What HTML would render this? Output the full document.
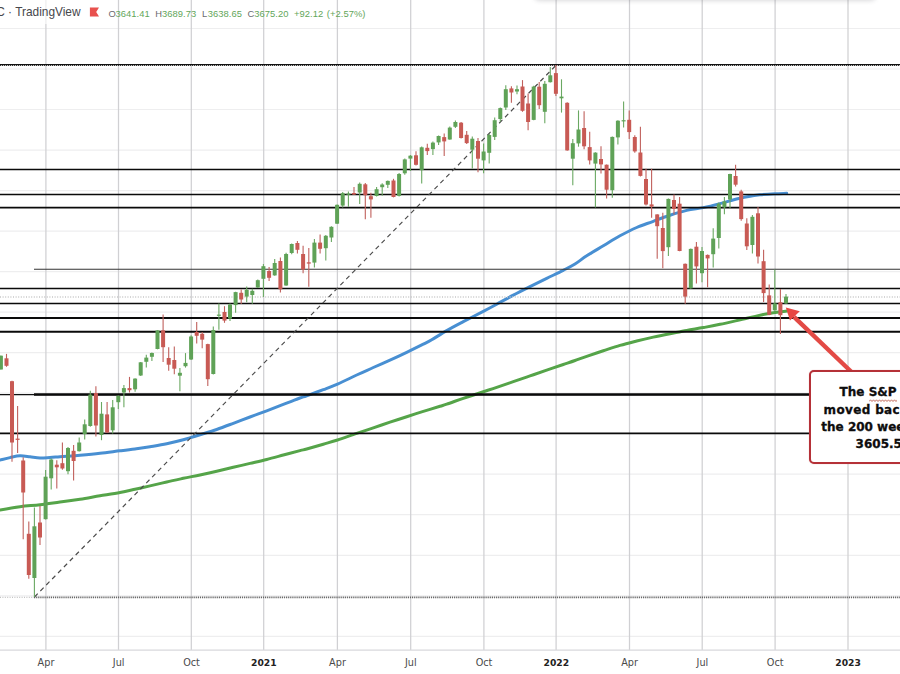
<!DOCTYPE html>
<html><head><meta charset="utf-8"><title>SPX chart</title>
<style>
html,body{margin:0;padding:0;background:#fff;}
body{width:900px;height:674px;position:relative;overflow:hidden;font-family:"Liberation Sans","DejaVu Sans",sans-serif;}
#shadow{position:absolute;left:536px;top:-15px;width:338px;height:13px;background:#999;box-shadow:0 0 4px 3px rgba(90,90,100,.22);border-radius:4px;}
#title{position:absolute;left:-3.8px;top:5.9px;font-family:"Liberation Sans","DejaVu Sans",sans-serif;font-size:11.9px;line-height:13px;color:#47474c;white-space:nowrap;}
#ohlc span{position:absolute;top:8.2px;font-family:"Liberation Sans","DejaVu Sans",sans-serif;font-size:9.4px;line-height:11px;color:#62a65a;white-space:nowrap;letter-spacing:0.05px;}
#ohlc span.k{color:#6a6a6e;}
#box{position:absolute;left:808.7px;top:370.4px;width:120px;height:89.2px;border:2px solid #b53138;border-radius:5px;background:#fff;box-shadow:0 0 1px rgba(200,60,60,.5);}
.bl{position:absolute;white-space:nowrap;font-family:"DejaVu Sans","Liberation Sans",sans-serif;font-weight:bold;font-size:12px;color:#0d0d0d;line-height:14px;-webkit-text-stroke:0.3px #0d0d0d;}
#sq{position:absolute;left:869px;top:398.6px;}
</style></head><body>
<svg width="900" height="674" viewBox="0 0 900 674" style="position:absolute;left:0;top:0">
<g stroke="#eeeeef" stroke-width="1.2">
<line x1="0" x2="900" y1="28.5" y2="28.5"/>
<line x1="0" x2="900" y1="69.0" y2="69.0"/>
<line x1="0" x2="900" y1="109.5" y2="109.5"/>
<line x1="0" x2="900" y1="150.1" y2="150.1"/>
<line x1="0" x2="900" y1="190.6" y2="190.6"/>
<line x1="0" x2="900" y1="231.1" y2="231.1"/>
<line x1="0" x2="900" y1="271.6" y2="271.6"/>
<line x1="0" x2="900" y1="312.1" y2="312.1"/>
<line x1="0" x2="900" y1="352.7" y2="352.7"/>
<line x1="0" x2="900" y1="393.2" y2="393.2"/>
<line x1="0" x2="900" y1="433.7" y2="433.7"/>
<line x1="0" x2="900" y1="474.2" y2="474.2"/>
<line x1="0" x2="900" y1="514.7" y2="514.7"/>
<line x1="0" x2="900" y1="555.3" y2="555.3"/>
<line x1="0" x2="900" y1="595.8" y2="595.8"/>
<line x1="0" x2="900" y1="636.3" y2="636.3"/>
</g>
<g stroke="#d0d0d3" stroke-width="1.25">
<line x1="45.9" x2="45.9" y1="0" y2="650"/>
<line x1="118.5" x2="118.5" y1="0" y2="650"/>
<line x1="191.3" x2="191.3" y1="0" y2="650"/>
<line x1="263.7" x2="263.7" y1="0" y2="650"/>
<line x1="337.4" x2="337.4" y1="0" y2="650"/>
<line x1="410.7" x2="410.7" y1="0" y2="650"/>
<line x1="483.9" x2="483.9" y1="0" y2="650"/>
<line x1="556.1" x2="556.1" y1="0" y2="650"/>
<line x1="629.5" x2="629.5" y1="0" y2="650"/>
<line x1="702.2" x2="702.2" y1="0" y2="650"/>
<line x1="775.1" x2="775.1" y1="0" y2="650"/>
<line x1="848.0" x2="848.0" y1="0" y2="650"/>
</g>
<line x1="0" x2="900" y1="650.2" y2="650.2" stroke="#d8d8dc" stroke-width="1.2"/>
<path d="M0.0 460.0 C1.7 459.6 6.7 458.3 10.0 457.6 C13.3 456.9 16.7 455.9 20.0 455.8 C23.3 455.7 26.7 456.4 30.0 456.8 C33.3 457.2 36.7 457.9 40.0 458.0 C43.3 458.1 46.7 457.7 50.0 457.5 C53.3 457.3 55.0 457.1 60.0 456.7 C65.0 456.3 73.3 455.9 80.0 455.3 C86.7 454.7 93.3 454.1 100.0 453.3 C106.7 452.6 114.2 451.5 120.0 450.8 C125.8 450.1 130.0 449.6 135.0 448.9 C140.0 448.2 144.7 447.6 150.0 446.7 C155.3 445.8 161.1 444.9 166.7 443.7 C172.2 442.5 179.1 440.8 183.3 439.7 C187.5 438.6 188.9 438.0 191.7 437.2 C194.5 436.4 195.8 436.0 200.0 434.7 C204.2 433.4 211.1 431.4 216.7 429.5 C222.2 427.6 227.8 425.4 233.3 423.3 C238.9 421.2 244.4 419.1 250.0 417.0 C255.6 414.9 261.1 412.9 266.7 410.8 C272.2 408.7 277.8 406.5 283.3 404.4 C288.9 402.3 296.1 399.4 300.0 398.0 C303.9 396.6 302.8 397.2 306.7 395.8 C310.6 394.4 318.2 391.6 323.3 389.7 C328.4 387.8 331.9 386.6 337.5 384.2 C343.1 381.8 350.7 377.8 356.7 375.0 C362.7 372.2 367.8 370.0 373.3 367.5 C378.9 365.0 384.4 362.7 390.0 360.2 C395.6 357.7 401.1 355.1 406.7 352.4 C412.2 349.7 419.1 346.3 423.3 344.2 C427.5 342.1 427.8 342.1 431.7 339.8 C435.6 337.5 441.4 333.6 446.7 330.6 C452.0 327.6 457.2 324.9 463.3 321.7 C469.4 318.5 477.7 314.2 483.3 311.3 C488.9 308.4 491.7 306.9 496.7 304.2 C501.7 301.5 507.7 298.1 513.3 295.2 C518.8 292.3 524.4 289.5 530.0 286.7 C535.6 283.9 541.2 281.1 546.7 278.4 C552.2 275.7 558.6 272.7 563.3 270.3 C568.0 267.9 571.1 266.4 575.0 264.0 C578.9 261.6 582.0 258.8 586.7 255.8 C591.4 252.8 597.8 249.1 603.3 245.8 C608.8 242.5 614.4 238.9 620.0 235.8 C625.6 232.8 631.2 229.9 636.7 227.5 C642.2 225.1 647.8 223.4 653.3 221.3 C658.8 219.2 664.4 217.0 670.0 215.2 C675.6 213.4 681.2 211.7 686.7 210.4 C692.2 209.1 697.8 208.7 703.3 207.6 C708.8 206.5 713.9 205.2 720.0 203.6 C726.1 202.0 733.3 199.7 740.0 198.2 C746.7 196.7 754.2 195.6 760.0 194.8 C765.8 194.1 770.5 193.9 775.0 193.7 C779.5 193.4 784.8 193.4 786.7 193.3" fill="none" stroke="#488fd2" stroke-width="3" stroke-linejoin="round" stroke-linecap="round"/>
<path d="M0.0 510.0 C3.3 509.4 13.3 507.6 20.0 506.7 C26.7 505.8 33.3 505.5 40.0 504.7 C46.7 503.9 53.3 502.9 60.0 502.0 C66.7 501.1 73.3 500.2 80.0 499.2 C86.7 498.2 93.3 496.9 100.0 495.8 C106.7 494.7 114.2 493.6 120.0 492.5 C125.8 491.4 130.0 490.4 135.0 489.3 C140.0 488.2 144.7 487.1 150.0 485.9 C155.3 484.7 161.1 483.3 166.7 482.0 C172.2 480.7 177.8 479.5 183.3 478.3 C188.9 477.1 194.4 476.2 200.0 475.0 C205.6 473.8 211.1 472.6 216.7 471.3 C222.2 470.0 227.8 468.6 233.3 467.3 C238.9 466.0 244.4 464.7 250.0 463.4 C255.6 462.1 261.1 460.9 266.7 459.5 C272.2 458.1 277.8 456.5 283.3 455.0 C288.9 453.5 296.1 451.6 300.0 450.6 C303.9 449.6 302.8 450.1 306.7 449.0 C310.6 447.9 318.2 445.7 323.3 444.2 C328.4 442.7 331.9 441.8 337.5 440.0 C343.1 438.2 350.7 435.4 356.7 433.4 C362.7 431.4 367.8 429.7 373.3 427.8 C378.9 425.9 384.4 424.1 390.0 422.2 C395.6 420.3 401.1 418.5 406.7 416.7 C412.2 414.9 417.8 413.1 423.3 411.4 C428.9 409.7 436.1 407.5 440.0 406.3 C443.9 405.1 442.8 405.5 446.7 404.2 C450.6 402.9 457.2 400.4 463.3 398.3 C469.4 396.2 477.7 393.5 483.3 391.7 C488.9 389.9 491.7 389.1 496.7 387.4 C501.7 385.7 507.7 383.6 513.3 381.7 C518.8 379.8 524.4 377.8 530.0 375.9 C535.6 374.0 541.2 372.0 546.7 370.1 C552.2 368.2 558.6 366.1 563.3 364.5 C568.0 362.9 571.1 361.9 575.0 360.5 C578.9 359.1 582.0 357.9 586.7 356.3 C591.4 354.7 597.8 352.6 603.3 350.8 C608.8 349.0 614.4 347.0 620.0 345.4 C625.6 343.8 631.2 342.4 636.7 341.0 C642.2 339.6 647.8 338.3 653.3 337.1 C658.8 335.9 664.4 334.8 670.0 333.7 C675.6 332.6 681.2 331.4 686.7 330.4 C692.2 329.4 697.8 328.6 703.3 327.6 C708.8 326.6 712.8 325.9 720.0 324.3 C727.2 322.8 738.6 320.1 746.8 318.3 C755.0 316.5 762.3 314.6 769.0 313.4 C775.7 312.2 783.9 311.4 786.9 311.0" fill="none" stroke="#55a449" stroke-width="3" stroke-linejoin="round" stroke-linecap="round"/>
<line x1="0" x2="900" y1="297" y2="297" stroke="#c6c6c6" stroke-width="1.3" stroke-dasharray="1 1.6"/>
<line x1="0" x2="900" y1="64.6" y2="64.6" stroke="#111" stroke-width="1.2"/>
<line x1="0" x2="900" y1="65.5" y2="65.5" stroke="#222" stroke-width="0.9" stroke-dasharray="1 1"/>
<line x1="0.0" x2="900" y1="169.5" y2="169.5" stroke="#0a0a0a" stroke-width="1.6"/>
<line x1="0.0" x2="900" y1="194.5" y2="194.5" stroke="#0a0a0a" stroke-width="1.6"/>
<line x1="0.0" x2="900" y1="207.6" y2="207.6" stroke="#0a0a0a" stroke-width="1.6"/>
<line x1="34.0" x2="900" y1="269.3" y2="269.3" stroke="#333" stroke-width="1.1"/>
<line x1="0.0" x2="900" y1="288.4" y2="288.4" stroke="#0a0a0a" stroke-width="1.5"/>
<line x1="0.0" x2="900" y1="303.5" y2="303.5" stroke="#0a0a0a" stroke-width="1.5"/>
<line x1="0.0" x2="900" y1="318.0" y2="318.0" stroke="#0a0a0a" stroke-width="1.9"/>
<line x1="0.0" x2="900" y1="331.8" y2="331.8" stroke="#0a0a0a" stroke-width="2.0"/>
<line x1="0.0" x2="900" y1="394.6" y2="394.6" stroke="#111" stroke-width="1.3"/>
<line x1="34.0" x2="900" y1="394.5" y2="394.5" stroke="#0a0a0a" stroke-width="2.4"/>
<line x1="0.0" x2="900" y1="433.4" y2="433.4" stroke="#0a0a0a" stroke-width="1.6"/>
<line x1="0" x2="34" y1="597.4" y2="597.4" stroke="#c4c4c4" stroke-width="1.2" stroke-dasharray="1 1.4"/>
<line x1="34" x2="900" y1="597.4" y2="597.4" stroke="#666" stroke-width="1.6" stroke-dasharray="1.2 0.9"/>
<line x1="34.5" y1="597" x2="556.3" y2="65" stroke="#4a4a4a" stroke-width="1.15" stroke-dasharray="4.6 3.8"/>
<g>
<line x1="0.9" x2="0.9" y1="355.4" y2="369.5" stroke="#6aa862" stroke-width="1.1"/>
<rect x="-1.1" y="355.7" width="4" height="13.8" fill="#5fa257"/>
<line x1="6.5" x2="6.5" y1="353.9" y2="366.8" stroke="#c0605c" stroke-width="1.1"/>
<rect x="4.5" y="358.3" width="4" height="7.5" fill="#c85a54"/>
<line x1="12.0" x2="12.0" y1="380.8" y2="461.7" stroke="#c0605c" stroke-width="1.1"/>
<rect x="10.0" y="381.2" width="4" height="61.3" fill="#c85a54"/>
<line x1="17.6" x2="17.6" y1="406.0" y2="453.0" stroke="#c0605c" stroke-width="1.1"/>
<rect x="15.6" y="438.6" width="4" height="1.3" fill="#c85a54"/>
<line x1="23.2" x2="23.2" y1="457.2" y2="539.2" stroke="#c0605c" stroke-width="1.1"/>
<rect x="21.2" y="460.5" width="4" height="32.0" fill="#c85a54"/>
<line x1="28.8" x2="28.8" y1="521.5" y2="578.7" stroke="#c0605c" stroke-width="1.1"/>
<rect x="26.8" y="533.8" width="4" height="41.2" fill="#c85a54"/>
<line x1="34.4" x2="34.4" y1="507.5" y2="597.0" stroke="#6aa862" stroke-width="1.1"/>
<rect x="32.4" y="526.3" width="4" height="51.7" fill="#5fa257"/>
<line x1="40.0" x2="40.0" y1="506.0" y2="545.0" stroke="#c0605c" stroke-width="1.1"/>
<rect x="38.0" y="522.5" width="4" height="15.0" fill="#c85a54"/>
<line x1="45.6" x2="45.6" y1="470.0" y2="519.5" stroke="#6aa862" stroke-width="1.1"/>
<rect x="43.6" y="476.7" width="4" height="42.5" fill="#5fa257"/>
<line x1="51.2" x2="51.2" y1="458.5" y2="489.5" stroke="#6aa862" stroke-width="1.1"/>
<rect x="49.2" y="459.5" width="4" height="18.8" fill="#5fa257"/>
<line x1="56.8" x2="56.8" y1="460.3" y2="488.5" stroke="#c0605c" stroke-width="1.1"/>
<rect x="54.8" y="464.7" width="4" height="2.6" fill="#c85a54"/>
<line x1="62.4" x2="62.4" y1="442.5" y2="469.7" stroke="#c0605c" stroke-width="1.1"/>
<rect x="60.4" y="463.2" width="4" height="5.3" fill="#c85a54"/>
<line x1="68.0" x2="68.0" y1="447.0" y2="474.3" stroke="#6aa862" stroke-width="1.1"/>
<rect x="66.0" y="448.0" width="4" height="23.2" fill="#5fa257"/>
<line x1="73.6" x2="73.6" y1="445.0" y2="480.4" stroke="#c0605c" stroke-width="1.1"/>
<rect x="71.6" y="450.8" width="4" height="10.2" fill="#c85a54"/>
<line x1="79.2" x2="79.2" y1="437.5" y2="451.5" stroke="#6aa862" stroke-width="1.1"/>
<rect x="77.2" y="442.5" width="4" height="8.7" fill="#5fa257"/>
<line x1="84.7" x2="84.7" y1="419.6" y2="439.4" stroke="#6aa862" stroke-width="1.1"/>
<rect x="82.7" y="424.3" width="4" height="9.7" fill="#5fa257"/>
<line x1="90.3" x2="90.3" y1="390.7" y2="426.8" stroke="#6aa862" stroke-width="1.1"/>
<rect x="88.3" y="394.6" width="4" height="31.4" fill="#5fa257"/>
<line x1="95.9" x2="95.9" y1="386.3" y2="436.4" stroke="#c0605c" stroke-width="1.1"/>
<rect x="93.9" y="393.0" width="4" height="32.5" fill="#c85a54"/>
<line x1="101.5" x2="101.5" y1="402.0" y2="440.2" stroke="#6aa862" stroke-width="1.1"/>
<rect x="99.5" y="413.7" width="4" height="21.3" fill="#5fa257"/>
<line x1="107.1" x2="107.1" y1="402.1" y2="433.0" stroke="#c0605c" stroke-width="1.1"/>
<rect x="105.1" y="414.4" width="4" height="18.1" fill="#c85a54"/>
<line x1="112.7" x2="112.7" y1="400.0" y2="433.4" stroke="#6aa862" stroke-width="1.1"/>
<rect x="110.7" y="407.3" width="4" height="23.0" fill="#5fa257"/>
<line x1="118.3" x2="118.3" y1="395.4" y2="409.0" stroke="#6aa862" stroke-width="1.1"/>
<rect x="116.3" y="395.8" width="4" height="6.4" fill="#5fa257"/>
<line x1="123.9" x2="123.9" y1="385.0" y2="407.2" stroke="#6aa862" stroke-width="1.1"/>
<rect x="121.9" y="388.1" width="4" height="4.4" fill="#5fa257"/>
<line x1="129.5" x2="129.5" y1="376.9" y2="392.5" stroke="#c0605c" stroke-width="1.1"/>
<rect x="127.5" y="388.1" width="4" height="2.1" fill="#c85a54"/>
<line x1="135.1" x2="135.1" y1="378.2" y2="391.8" stroke="#6aa862" stroke-width="1.1"/>
<rect x="133.1" y="378.6" width="4" height="10.7" fill="#5fa257"/>
<line x1="140.7" x2="140.7" y1="362.0" y2="376.0" stroke="#6aa862" stroke-width="1.1"/>
<rect x="138.7" y="362.3" width="4" height="13.2" fill="#5fa257"/>
<line x1="146.3" x2="146.3" y1="354.7" y2="367.4" stroke="#6aa862" stroke-width="1.1"/>
<rect x="144.3" y="357.6" width="4" height="4.2" fill="#5fa257"/>
<line x1="151.9" x2="151.9" y1="352.4" y2="361.0" stroke="#6aa862" stroke-width="1.1"/>
<rect x="149.9" y="353.0" width="4" height="3.8" fill="#5fa257"/>
<line x1="157.5" x2="157.5" y1="330.2" y2="349.3" stroke="#6aa862" stroke-width="1.1"/>
<rect x="155.5" y="330.4" width="4" height="18.6" fill="#5fa257"/>
<line x1="163.1" x2="163.1" y1="314.5" y2="362.0" stroke="#c0605c" stroke-width="1.1"/>
<rect x="161.1" y="330.3" width="4" height="16.9" fill="#c85a54"/>
<line x1="168.7" x2="168.7" y1="347.2" y2="370.7" stroke="#c0605c" stroke-width="1.1"/>
<rect x="166.7" y="358.0" width="4" height="6.7" fill="#c85a54"/>
<line x1="174.3" x2="174.3" y1="346.6" y2="374.2" stroke="#c0605c" stroke-width="1.1"/>
<rect x="172.3" y="360.0" width="4" height="8.7" fill="#c85a54"/>
<line x1="179.9" x2="179.9" y1="368.1" y2="391.2" stroke="#6aa862" stroke-width="1.1"/>
<rect x="177.9" y="372.8" width="4" height="2.9" fill="#5fa257"/>
<line x1="185.5" x2="185.5" y1="353.1" y2="367.6" stroke="#6aa862" stroke-width="1.1"/>
<rect x="183.5" y="362.9" width="4" height="3.3" fill="#5fa257"/>
<line x1="191.1" x2="191.1" y1="335.3" y2="360.0" stroke="#6aa862" stroke-width="1.1"/>
<rect x="189.1" y="336.5" width="4" height="23.0" fill="#5fa257"/>
<line x1="196.7" x2="196.7" y1="322.1" y2="343.6" stroke="#c0605c" stroke-width="1.1"/>
<rect x="194.7" y="332.0" width="4" height="3.8" fill="#c85a54"/>
<line x1="202.2" x2="202.2" y1="332.0" y2="348.3" stroke="#c0605c" stroke-width="1.1"/>
<rect x="200.2" y="333.8" width="4" height="5.8" fill="#c85a54"/>
<line x1="207.8" x2="207.8" y1="343.8" y2="385.9" stroke="#c0605c" stroke-width="1.1"/>
<rect x="205.8" y="344.1" width="4" height="35.1" fill="#c85a54"/>
<line x1="213.3" x2="213.3" y1="326.6" y2="374.5" stroke="#6aa862" stroke-width="1.1"/>
<rect x="211.3" y="330.0" width="4" height="44.0" fill="#5fa257"/>
<line x1="218.9" x2="218.9" y1="303.4" y2="329.7" stroke="#6aa862" stroke-width="1.1"/>
<rect x="216.9" y="314.6" width="4" height="1.2" fill="#5fa257"/>
<line x1="224.5" x2="224.5" y1="306.2" y2="322.8" stroke="#c0605c" stroke-width="1.1"/>
<rect x="222.5" y="312.0" width="4" height="8.6" fill="#c85a54"/>
<line x1="230.0" x2="230.0" y1="303.4" y2="321.1" stroke="#6aa862" stroke-width="1.1"/>
<rect x="228.0" y="304.5" width="4" height="14.1" fill="#5fa257"/>
<line x1="235.6" x2="235.6" y1="291.8" y2="312.7" stroke="#6aa862" stroke-width="1.1"/>
<rect x="233.6" y="292.1" width="4" height="13.0" fill="#5fa257"/>
<line x1="241.2" x2="241.2" y1="289.4" y2="304.0" stroke="#c0605c" stroke-width="1.1"/>
<rect x="239.2" y="292.8" width="4" height="6.7" fill="#c85a54"/>
<line x1="246.7" x2="246.7" y1="286.4" y2="302.2" stroke="#6aa862" stroke-width="1.1"/>
<rect x="244.7" y="289.8" width="4" height="6.8" fill="#5fa257"/>
<line x1="252.3" x2="252.3" y1="288.7" y2="303.8" stroke="#6aa862" stroke-width="1.1"/>
<rect x="250.3" y="290.8" width="4" height="4.2" fill="#5fa257"/>
<line x1="257.8" x2="257.8" y1="279.4" y2="288.0" stroke="#6aa862" stroke-width="1.1"/>
<rect x="255.8" y="280.2" width="4" height="7.3" fill="#5fa257"/>
<line x1="263.4" x2="263.4" y1="264.0" y2="297.0" stroke="#6aa862" stroke-width="1.1"/>
<rect x="261.4" y="266.2" width="4" height="12.6" fill="#5fa257"/>
<line x1="269.1" x2="269.1" y1="267.0" y2="281.0" stroke="#c0605c" stroke-width="1.1"/>
<rect x="267.1" y="271.0" width="4" height="6.8" fill="#c85a54"/>
<line x1="274.7" x2="274.7" y1="259.0" y2="275.8" stroke="#6aa862" stroke-width="1.1"/>
<rect x="272.7" y="263.0" width="4" height="12.4" fill="#5fa257"/>
<line x1="280.4" x2="280.4" y1="257.5" y2="292.6" stroke="#c0605c" stroke-width="1.1"/>
<rect x="278.4" y="261.0" width="4" height="28.3" fill="#c85a54"/>
<line x1="286.1" x2="286.1" y1="252.8" y2="285.8" stroke="#6aa862" stroke-width="1.1"/>
<rect x="284.1" y="254.0" width="4" height="31.5" fill="#5fa257"/>
<line x1="291.7" x2="291.7" y1="243.4" y2="254.2" stroke="#6aa862" stroke-width="1.1"/>
<rect x="289.7" y="244.0" width="4" height="9.0" fill="#5fa257"/>
<line x1="297.4" x2="297.4" y1="241.0" y2="253.6" stroke="#c0605c" stroke-width="1.1"/>
<rect x="295.4" y="243.0" width="4" height="6.8" fill="#c85a54"/>
<line x1="303.1" x2="303.1" y1="245.8" y2="273.3" stroke="#c0605c" stroke-width="1.1"/>
<rect x="301.1" y="254.0" width="4" height="15.5" fill="#c85a54"/>
<line x1="308.8" x2="308.8" y1="248.1" y2="286.7" stroke="#c0605c" stroke-width="1.1"/>
<rect x="306.8" y="262.3" width="4" height="1.3" fill="#c85a54"/>
<line x1="314.4" x2="314.4" y1="239.0" y2="267.4" stroke="#6aa862" stroke-width="1.1"/>
<rect x="312.4" y="242.6" width="4" height="20.0" fill="#5fa257"/>
<line x1="320.1" x2="320.1" y1="234.4" y2="253.5" stroke="#c0605c" stroke-width="1.1"/>
<rect x="318.1" y="242.6" width="4" height="6.2" fill="#c85a54"/>
<line x1="325.8" x2="325.8" y1="235.0" y2="260.6" stroke="#6aa862" stroke-width="1.1"/>
<rect x="323.8" y="235.8" width="4" height="12.4" fill="#5fa257"/>
<line x1="331.4" x2="331.4" y1="226.2" y2="242.0" stroke="#6aa862" stroke-width="1.1"/>
<rect x="329.4" y="226.8" width="4" height="10.7" fill="#5fa257"/>
<line x1="337.1" x2="337.1" y1="204.4" y2="224.0" stroke="#6aa862" stroke-width="1.1"/>
<rect x="335.1" y="204.8" width="4" height="18.9" fill="#5fa257"/>
<line x1="342.7" x2="342.7" y1="192.0" y2="207.5" stroke="#6aa862" stroke-width="1.1"/>
<rect x="340.7" y="193.2" width="4" height="12.4" fill="#5fa257"/>
<line x1="348.4" x2="348.4" y1="191.5" y2="206.7" stroke="#6aa862" stroke-width="1.1"/>
<rect x="346.4" y="193.5" width="4" height="1.2" fill="#5fa257"/>
<line x1="354.0" x2="354.0" y1="187.0" y2="195.1" stroke="#c0605c" stroke-width="1.1"/>
<rect x="352.0" y="193.0" width="4" height="1.5" fill="#c85a54"/>
<line x1="359.7" x2="359.7" y1="182.4" y2="204.0" stroke="#6aa862" stroke-width="1.1"/>
<rect x="357.7" y="183.8" width="4" height="8.7" fill="#5fa257"/>
<line x1="365.3" x2="365.3" y1="183.0" y2="219.2" stroke="#c0605c" stroke-width="1.1"/>
<rect x="363.3" y="184.3" width="4" height="10.9" fill="#c85a54"/>
<line x1="370.9" x2="370.9" y1="192.8" y2="217.8" stroke="#c0605c" stroke-width="1.1"/>
<rect x="368.9" y="196.2" width="4" height="3.2" fill="#c85a54"/>
<line x1="376.6" x2="376.6" y1="187.0" y2="196.5" stroke="#6aa862" stroke-width="1.1"/>
<rect x="374.6" y="189.2" width="4" height="6.8" fill="#5fa257"/>
<line x1="382.2" x2="382.2" y1="183.2" y2="195.8" stroke="#6aa862" stroke-width="1.1"/>
<rect x="380.2" y="184.5" width="4" height="2.7" fill="#5fa257"/>
<line x1="387.8" x2="387.8" y1="180.4" y2="188.0" stroke="#6aa862" stroke-width="1.1"/>
<rect x="385.8" y="180.9" width="4" height="3.9" fill="#5fa257"/>
<line x1="393.5" x2="393.5" y1="178.8" y2="197.4" stroke="#c0605c" stroke-width="1.1"/>
<rect x="391.5" y="180.5" width="4" height="16.5" fill="#c85a54"/>
<line x1="399.1" x2="399.1" y1="173.1" y2="196.4" stroke="#6aa862" stroke-width="1.1"/>
<rect x="397.1" y="174.0" width="4" height="21.9" fill="#5fa257"/>
<line x1="404.8" x2="404.8" y1="158.5" y2="174.8" stroke="#6aa862" stroke-width="1.1"/>
<rect x="402.8" y="159.4" width="4" height="13.9" fill="#5fa257"/>
<line x1="410.4" x2="410.4" y1="155.1" y2="171.0" stroke="#6aa862" stroke-width="1.1"/>
<rect x="408.4" y="155.7" width="4" height="2.9" fill="#5fa257"/>
<line x1="416.0" x2="416.0" y1="151.3" y2="165.5" stroke="#c0605c" stroke-width="1.1"/>
<rect x="414.0" y="155.3" width="4" height="9.5" fill="#c85a54"/>
<line x1="421.7" x2="421.7" y1="146.6" y2="183.4" stroke="#6aa862" stroke-width="1.1"/>
<rect x="419.7" y="147.3" width="4" height="22.8" fill="#5fa257"/>
<line x1="427.3" x2="427.3" y1="143.8" y2="155.1" stroke="#c0605c" stroke-width="1.1"/>
<rect x="425.3" y="147.8" width="4" height="3.3" fill="#c85a54"/>
<line x1="432.9" x2="432.9" y1="141.5" y2="155.0" stroke="#6aa862" stroke-width="1.1"/>
<rect x="430.9" y="142.6" width="4" height="6.5" fill="#5fa257"/>
<line x1="438.6" x2="438.6" y1="135.6" y2="145.1" stroke="#6aa862" stroke-width="1.1"/>
<rect x="436.6" y="136.0" width="4" height="6.4" fill="#5fa257"/>
<line x1="444.2" x2="444.2" y1="133.5" y2="156.0" stroke="#c0605c" stroke-width="1.1"/>
<rect x="442.2" y="137.1" width="4" height="4.3" fill="#c85a54"/>
<line x1="449.8" x2="449.8" y1="126.5" y2="139.8" stroke="#6aa862" stroke-width="1.1"/>
<rect x="447.8" y="127.6" width="4" height="11.9" fill="#5fa257"/>
<line x1="455.4" x2="455.4" y1="120.4" y2="128.0" stroke="#6aa862" stroke-width="1.1"/>
<rect x="453.4" y="122.0" width="4" height="4.8" fill="#5fa257"/>
<line x1="461.1" x2="461.1" y1="122.0" y2="138.5" stroke="#c0605c" stroke-width="1.1"/>
<rect x="459.1" y="122.7" width="4" height="15.3" fill="#c85a54"/>
<line x1="466.7" x2="466.7" y1="131.1" y2="144.1" stroke="#c0605c" stroke-width="1.1"/>
<rect x="464.7" y="134.8" width="4" height="8.3" fill="#c85a54"/>
<line x1="472.3" x2="472.3" y1="136.5" y2="168.5" stroke="#6aa862" stroke-width="1.1"/>
<rect x="470.3" y="138.7" width="4" height="11.0" fill="#5fa257"/>
<line x1="478.0" x2="478.0" y1="138.1" y2="172.3" stroke="#c0605c" stroke-width="1.1"/>
<rect x="476.0" y="141.0" width="4" height="17.7" fill="#c85a54"/>
<line x1="483.6" x2="483.6" y1="143.4" y2="173.3" stroke="#6aa862" stroke-width="1.1"/>
<rect x="481.6" y="151.5" width="4" height="8.9" fill="#5fa257"/>
<line x1="489.2" x2="489.2" y1="133.7" y2="163.6" stroke="#6aa862" stroke-width="1.1"/>
<rect x="487.2" y="135.0" width="4" height="17.8" fill="#5fa257"/>
<line x1="494.7" x2="494.7" y1="117.6" y2="140.0" stroke="#6aa862" stroke-width="1.1"/>
<rect x="492.7" y="120.2" width="4" height="16.7" fill="#5fa257"/>
<line x1="500.3" x2="500.3" y1="107.4" y2="121.4" stroke="#6aa862" stroke-width="1.1"/>
<rect x="498.3" y="108.1" width="4" height="10.9" fill="#5fa257"/>
<line x1="505.8" x2="505.8" y1="85.2" y2="110.0" stroke="#6aa862" stroke-width="1.1"/>
<rect x="503.8" y="89.2" width="4" height="18.3" fill="#5fa257"/>
<line x1="511.4" x2="511.4" y1="86.2" y2="102.7" stroke="#c0605c" stroke-width="1.1"/>
<rect x="509.4" y="88.4" width="4" height="4.1" fill="#c85a54"/>
<line x1="517.0" x2="517.0" y1="85.5" y2="94.3" stroke="#6aa862" stroke-width="1.1"/>
<rect x="515.0" y="89.2" width="4" height="2.3" fill="#5fa257"/>
<line x1="522.5" x2="522.5" y1="80.1" y2="111.8" stroke="#c0605c" stroke-width="1.1"/>
<rect x="520.5" y="86.5" width="4" height="24.3" fill="#c85a54"/>
<line x1="528.1" x2="528.1" y1="93.4" y2="130.2" stroke="#c0605c" stroke-width="1.1"/>
<rect x="526.1" y="103.5" width="4" height="18.5" fill="#c85a54"/>
<line x1="533.7" x2="533.7" y1="85.8" y2="120.3" stroke="#6aa862" stroke-width="1.1"/>
<rect x="531.7" y="86.6" width="4" height="33.3" fill="#5fa257"/>
<line x1="539.2" x2="539.2" y1="82.0" y2="109.1" stroke="#c0605c" stroke-width="1.1"/>
<rect x="537.2" y="86.7" width="4" height="18.5" fill="#c85a54"/>
<line x1="544.8" x2="544.8" y1="81.0" y2="123.2" stroke="#6aa862" stroke-width="1.1"/>
<rect x="542.8" y="83.8" width="4" height="28.0" fill="#5fa257"/>
<line x1="550.3" x2="550.3" y1="67.0" y2="82.6" stroke="#6aa862" stroke-width="1.1"/>
<rect x="548.3" y="75.3" width="4" height="6.9" fill="#5fa257"/>
<line x1="555.9" x2="555.9" y1="65.0" y2="96.0" stroke="#c0605c" stroke-width="1.1"/>
<rect x="553.9" y="73.1" width="4" height="20.7" fill="#c85a54"/>
<line x1="561.5" x2="561.5" y1="79.3" y2="112.6" stroke="#6aa862" stroke-width="1.1"/>
<rect x="559.5" y="96.6" width="4" height="1.7" fill="#5fa257"/>
<line x1="567.2" x2="567.2" y1="102.3" y2="150.8" stroke="#c0605c" stroke-width="1.1"/>
<rect x="565.2" y="102.8" width="4" height="47.6" fill="#c85a54"/>
<line x1="572.8" x2="572.8" y1="139.0" y2="185.2" stroke="#6aa862" stroke-width="1.1"/>
<rect x="570.8" y="143.2" width="4" height="15.5" fill="#5fa257"/>
<line x1="578.5" x2="578.5" y1="110.4" y2="146.7" stroke="#6aa862" stroke-width="1.1"/>
<rect x="576.5" y="129.5" width="4" height="13.9" fill="#5fa257"/>
<line x1="584.1" x2="584.1" y1="111.3" y2="149.3" stroke="#c0605c" stroke-width="1.1"/>
<rect x="582.1" y="128.0" width="4" height="18.3" fill="#c85a54"/>
<line x1="589.7" x2="589.7" y1="131.7" y2="164.5" stroke="#c0605c" stroke-width="1.1"/>
<rect x="587.7" y="147.1" width="4" height="13.3" fill="#c85a54"/>
<line x1="595.4" x2="595.4" y1="152.3" y2="207.4" stroke="#6aa862" stroke-width="1.1"/>
<rect x="593.4" y="152.6" width="4" height="11.0" fill="#5fa257"/>
<line x1="601.0" x2="601.0" y1="146.2" y2="173.6" stroke="#c0605c" stroke-width="1.1"/>
<rect x="599.0" y="159.0" width="4" height="5.4" fill="#c85a54"/>
<line x1="606.6" x2="606.6" y1="164.4" y2="198.5" stroke="#c0605c" stroke-width="1.1"/>
<rect x="604.6" y="164.7" width="4" height="25.0" fill="#c85a54"/>
<line x1="612.3" x2="612.3" y1="136.4" y2="197.7" stroke="#6aa862" stroke-width="1.1"/>
<rect x="610.3" y="136.9" width="4" height="53.3" fill="#5fa257"/>
<line x1="617.9" x2="617.9" y1="120.2" y2="144.4" stroke="#6aa862" stroke-width="1.1"/>
<rect x="615.9" y="120.7" width="4" height="16.7" fill="#5fa257"/>
<line x1="623.6" x2="623.6" y1="101.4" y2="127.6" stroke="#6aa862" stroke-width="1.1"/>
<rect x="621.6" y="120.2" width="4" height="1.2" fill="#5fa257"/>
<line x1="629.2" x2="629.2" y1="110.6" y2="139.1" stroke="#c0605c" stroke-width="1.1"/>
<rect x="627.2" y="119.8" width="4" height="12.3" fill="#c85a54"/>
<line x1="634.8" x2="634.8" y1="135.3" y2="152.8" stroke="#c0605c" stroke-width="1.1"/>
<rect x="632.8" y="137.0" width="4" height="14.4" fill="#c85a54"/>
<line x1="640.4" x2="640.4" y1="126.8" y2="176.4" stroke="#c0605c" stroke-width="1.1"/>
<rect x="638.4" y="152.5" width="4" height="23.4" fill="#c85a54"/>
<line x1="646.0" x2="646.0" y1="168.8" y2="205.6" stroke="#c0605c" stroke-width="1.1"/>
<rect x="644.0" y="179.0" width="4" height="25.5" fill="#c85a54"/>
<line x1="651.6" x2="651.6" y1="168.7" y2="217.8" stroke="#c0605c" stroke-width="1.1"/>
<rect x="649.6" y="204.4" width="4" height="2.2" fill="#c85a54"/>
<line x1="657.2" x2="657.2" y1="214.2" y2="258.8" stroke="#c0605c" stroke-width="1.1"/>
<rect x="655.2" y="214.4" width="4" height="11.8" fill="#c85a54"/>
<line x1="662.8" x2="662.8" y1="212.8" y2="268.3" stroke="#c0605c" stroke-width="1.1"/>
<rect x="660.8" y="228.0" width="4" height="23.1" fill="#c85a54"/>
<line x1="668.4" x2="668.4" y1="198.6" y2="255.9" stroke="#6aa862" stroke-width="1.1"/>
<rect x="666.4" y="198.9" width="4" height="48.3" fill="#5fa257"/>
<line x1="674.0" x2="674.0" y1="194.4" y2="214.5" stroke="#c0605c" stroke-width="1.1"/>
<rect x="672.0" y="200.0" width="4" height="9.0" fill="#c85a54"/>
<line x1="679.6" x2="679.6" y1="197.0" y2="251.3" stroke="#c0605c" stroke-width="1.1"/>
<rect x="677.6" y="203.7" width="4" height="47.3" fill="#c85a54"/>
<line x1="685.2" x2="685.2" y1="263.5" y2="303.8" stroke="#c0605c" stroke-width="1.1"/>
<rect x="683.2" y="263.8" width="4" height="32.8" fill="#c85a54"/>
<line x1="690.8" x2="690.8" y1="248.4" y2="288.8" stroke="#6aa862" stroke-width="1.1"/>
<rect x="688.8" y="248.9" width="4" height="39.4" fill="#5fa257"/>
<line x1="696.4" x2="696.4" y1="242.1" y2="283.5" stroke="#c0605c" stroke-width="1.1"/>
<rect x="694.4" y="246.7" width="4" height="19.7" fill="#c85a54"/>
<line x1="702.0" x2="702.0" y1="247.1" y2="282.3" stroke="#6aa862" stroke-width="1.1"/>
<rect x="700.0" y="251.0" width="4" height="22.2" fill="#5fa257"/>
<line x1="707.6" x2="707.6" y1="254.6" y2="287.3" stroke="#c0605c" stroke-width="1.1"/>
<rect x="705.6" y="254.9" width="4" height="3.5" fill="#c85a54"/>
<line x1="713.2" x2="713.2" y1="228.2" y2="267.6" stroke="#6aa862" stroke-width="1.1"/>
<rect x="711.2" y="238.6" width="4" height="15.6" fill="#5fa257"/>
<line x1="718.8" x2="718.8" y1="202.4" y2="248.5" stroke="#6aa862" stroke-width="1.1"/>
<rect x="716.8" y="203.6" width="4" height="34.4" fill="#5fa257"/>
<line x1="724.4" x2="724.4" y1="197.1" y2="214.3" stroke="#6aa862" stroke-width="1.1"/>
<rect x="722.4" y="201.4" width="4" height="6.0" fill="#5fa257"/>
<line x1="730.0" x2="730.0" y1="173.8" y2="207.9" stroke="#6aa862" stroke-width="1.1"/>
<rect x="728.0" y="174.0" width="4" height="25.5" fill="#5fa257"/>
<line x1="735.6" x2="735.6" y1="164.8" y2="186.4" stroke="#c0605c" stroke-width="1.1"/>
<rect x="733.6" y="176.0" width="4" height="8.7" fill="#c85a54"/>
<line x1="741.2" x2="741.2" y1="189.7" y2="220.7" stroke="#c0605c" stroke-width="1.1"/>
<rect x="739.2" y="191.4" width="4" height="27.7" fill="#c85a54"/>
<line x1="746.8" x2="746.8" y1="218.3" y2="250.0" stroke="#c0605c" stroke-width="1.1"/>
<rect x="744.8" y="223.5" width="4" height="22.8" fill="#c85a54"/>
<line x1="752.4" x2="752.4" y1="215.0" y2="253.5" stroke="#6aa862" stroke-width="1.1"/>
<rect x="750.4" y="216.8" width="4" height="28.2" fill="#5fa257"/>
<line x1="758.0" x2="758.0" y1="207.0" y2="263.5" stroke="#c0605c" stroke-width="1.1"/>
<rect x="756.0" y="213.3" width="4" height="43.2" fill="#c85a54"/>
<line x1="763.6" x2="763.6" y1="249.7" y2="302.0" stroke="#c0605c" stroke-width="1.1"/>
<rect x="761.6" y="261.2" width="4" height="31.9" fill="#c85a54"/>
<line x1="769.2" x2="769.2" y1="284.5" y2="315.2" stroke="#c0605c" stroke-width="1.1"/>
<rect x="767.2" y="295.4" width="4" height="19.4" fill="#c85a54"/>
<line x1="774.8" x2="774.8" y1="269.5" y2="310.8" stroke="#6aa862" stroke-width="1.1"/>
<rect x="772.8" y="303.5" width="4" height="6.8" fill="#5fa257"/>
<line x1="780.4" x2="780.4" y1="289.1" y2="334.0" stroke="#c0605c" stroke-width="1.1"/>
<rect x="778.4" y="302.3" width="4" height="12.9" fill="#c85a54"/>
<line x1="786.0" x2="786.0" y1="293.9" y2="304.1" stroke="#6aa862" stroke-width="1.1"/>
<rect x="784.0" y="296.6" width="4" height="6.8" fill="#5fa257"/>
</g>
<line x1="851" y1="371.5" x2="794" y2="316.8" stroke="#e34a45" stroke-width="4.4"/>
<polygon points="785.8,307.4 799.8,311.2 790,320.6" fill="#e84642"/>
<polygon points="89.9,7.6 99,7.6 96.2,12 99,16.5 89.9,16.5" fill="#e8514e"/>
<text x="46.0" y="665.8" text-anchor="middle" font-family="'DejaVu Sans','Liberation Sans',sans-serif" font-size="9.7" fill="#4a4a4a">Apr</text>
<text x="118.7" y="665.8" text-anchor="middle" font-family="'DejaVu Sans','Liberation Sans',sans-serif" font-size="9.7" fill="#4a4a4a">Jul</text>
<text x="191.5" y="665.8" text-anchor="middle" font-family="'DejaVu Sans','Liberation Sans',sans-serif" font-size="9.7" fill="#4a4a4a">Oct</text>
<text x="263.8" y="665.8" text-anchor="middle" font-family="'DejaVu Sans','Liberation Sans',sans-serif" font-size="9.2" font-weight="bold" fill="#222" fill="#4a4a4a">2021</text>
<text x="337.5" y="665.8" text-anchor="middle" font-family="'DejaVu Sans','Liberation Sans',sans-serif" font-size="9.7" fill="#4a4a4a">Apr</text>
<text x="410.8" y="665.8" text-anchor="middle" font-family="'DejaVu Sans','Liberation Sans',sans-serif" font-size="9.7" fill="#4a4a4a">Jul</text>
<text x="484.0" y="665.8" text-anchor="middle" font-family="'DejaVu Sans','Liberation Sans',sans-serif" font-size="9.7" fill="#4a4a4a">Oct</text>
<text x="556.3" y="665.8" text-anchor="middle" font-family="'DejaVu Sans','Liberation Sans',sans-serif" font-size="9.2" font-weight="bold" fill="#222" fill="#4a4a4a">2022</text>
<text x="629.6" y="665.8" text-anchor="middle" font-family="'DejaVu Sans','Liberation Sans',sans-serif" font-size="9.7" fill="#4a4a4a">Apr</text>
<text x="702.4" y="665.8" text-anchor="middle" font-family="'DejaVu Sans','Liberation Sans',sans-serif" font-size="9.7" fill="#4a4a4a">Jul</text>
<text x="775.2" y="665.8" text-anchor="middle" font-family="'DejaVu Sans','Liberation Sans',sans-serif" font-size="9.7" fill="#4a4a4a">Oct</text>
<text x="848.1" y="665.8" text-anchor="middle" font-family="'DejaVu Sans','Liberation Sans',sans-serif" font-size="9.2" font-weight="bold" fill="#222" fill="#4a4a4a">2023</text>
</svg>
<div id="shadow"></div>
<div style="position:absolute;left:0;top:0;width:86px;height:24px;background:rgba(255,255,255,.62)"></div>
<div id="title">C · TradingView</div>
<div id="ohlc"><span class="k" style="left:108.6px">O</span><span style="left:115.5px">3641.41</span><span class="k" style="left:155.3px">H</span><span style="left:162px">3689.73</span><span class="k" style="left:202px">L</span><span style="left:207.7px">3638.65</span><span class="k" style="left:247.4px">C</span><span style="left:254.3px">3675.20</span><span style="left:294px">+92.12</span><span style="left:326.8px">(+2.57%)</span></div>
<div id="box"></div>
<div class="bl" style="left:839.6px;top:385.2px">The S&amp;P has</div>
<div class="bl" style="left:823.6px;top:402.8px;letter-spacing:0.35px">moved back to</div>
<div class="bl" style="left:821.3px;top:419.8px">the 200 week MA</div>
<div class="bl" style="left:855.6px;top:436.5px">3605.50</div>
<svg id="sq" width="28" height="4" viewBox="0 0 28 4"><path d="M0 2.5 L1.5 0.8 L3 2.5 L4.5 0.8 L6 2.5 L7.5 0.8 L9 2.5 L10.5 0.8 L12 2.5 L13.5 0.8 L15 2.5 L16.5 0.8 L18 2.5 L19.5 0.8 L21 2.5 L22.5 0.8 L24 2.5 L25.5 0.8 L27 2.5 L28.5 0.8 L30 2.5 L31.5 0.8 L33 2.5 L34.5 0.8 L36 2.5" fill="none" stroke="#b8503f" stroke-width="0.8"/></svg>
</body></html>
